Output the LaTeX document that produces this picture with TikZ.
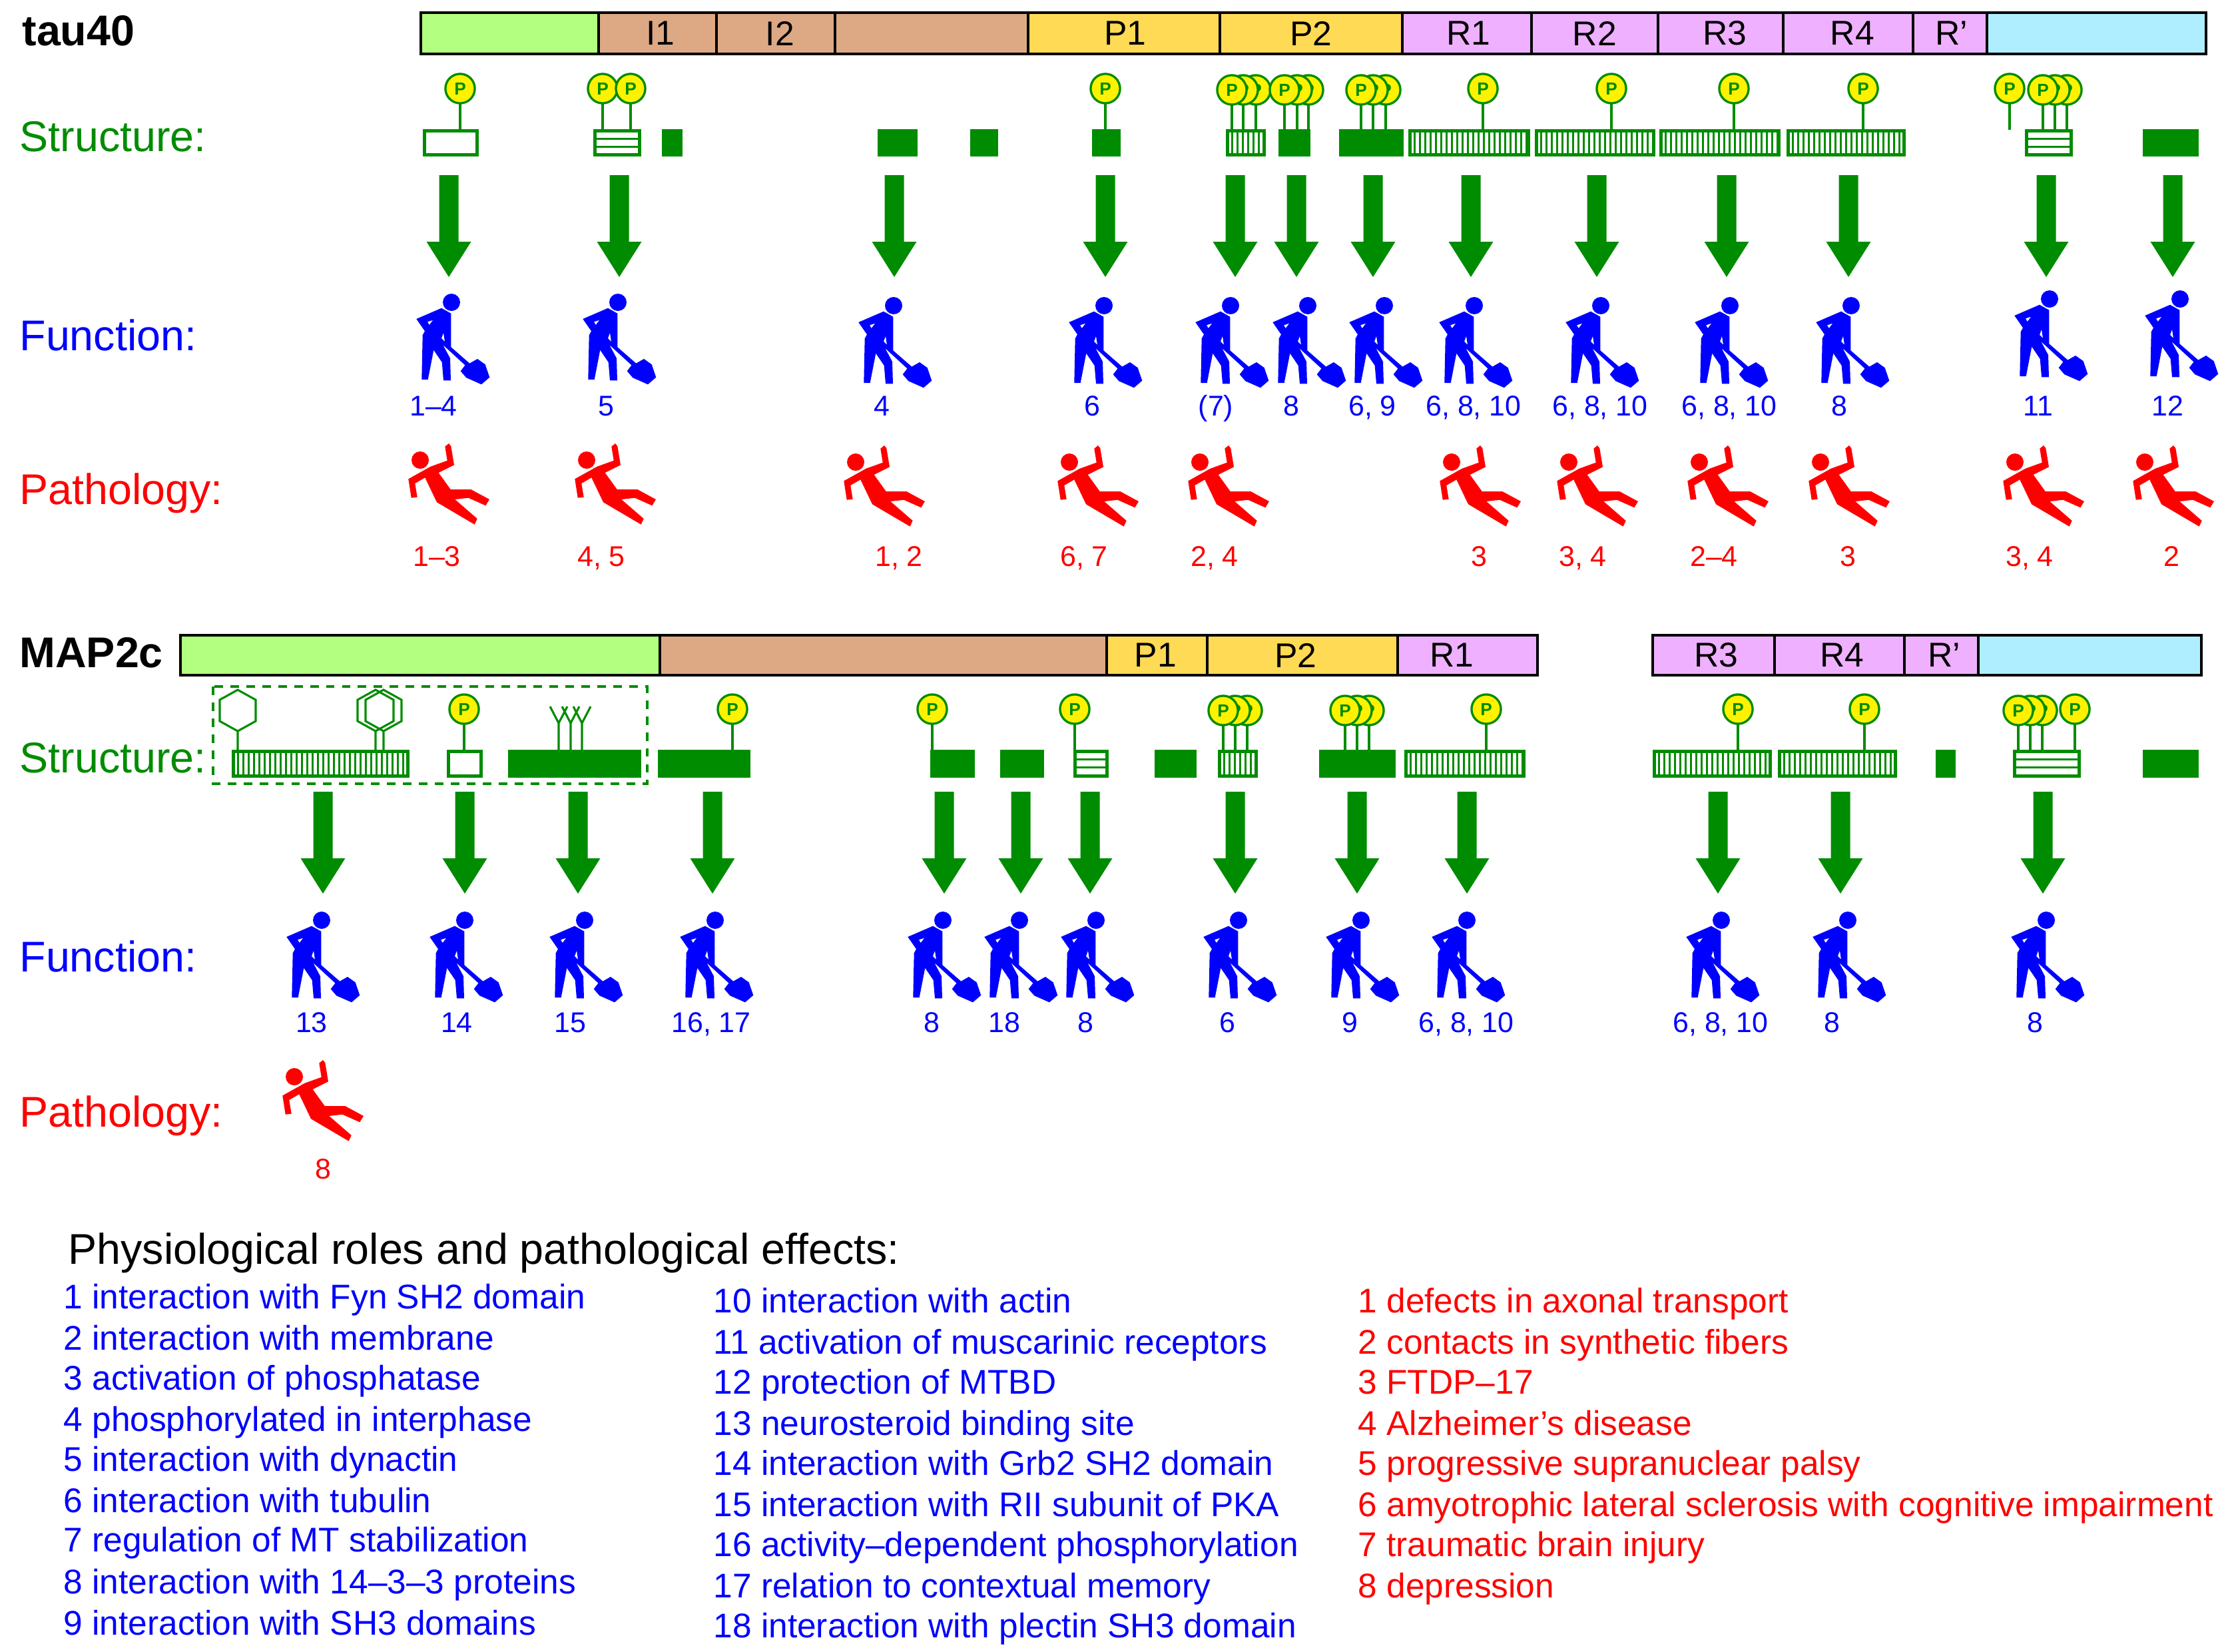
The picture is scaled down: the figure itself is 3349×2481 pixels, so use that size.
\documentclass[tikz,border=0pt]{standalone}
\usepackage{fontspec}
\setmainfont{Liberation Sans}
\definecolor{grn}{RGB}{0,140,0}
\definecolor{nterm}{RGB}{179,255,128}
\definecolor{proline}{RGB}{221,169,133}
\definecolor{prich}{RGB}{255,218,85}
\definecolor{rep}{RGB}{239,176,255}
\definecolor{cterm}{RGB}{174,238,255}
\tikzset{
  every picture/.style={line width=0.75pt},
  seg/.style={draw=black,line width=1.1pt},
  seglbl/.style={xshift=#1,font=\fontsize{12.4}{14}\selectfont},
  seglbl/.default=0.5pt,
  rowlbl/.style={anchor=west,inner sep=0pt,text height=0.72em,text depth=0pt,font=\fontsize{15.5}{18}\selectfont},
  namelbl/.style={rowlbl,font=\fontsize{15.5}{18}\selectfont\bfseries},
  itemlbl/.style={anchor=west,inner sep=0pt,text height=0.72em,text depth=0pt,font=\fontsize{12.35}{14}\selectfont},
  numlbl/.style={inner sep=0pt,text height=0.72em,text depth=0pt,font=\fontsize{10.3}{12}\selectfont},
  pball/.style={circle,draw=grn,fill=yellow,line width=0.8pt,minimum size=10.6pt,inner sep=0pt,text=grn,font=\fontsize{6.3}{7}\selectfont\bfseries},
  thin green/.style={draw=grn,line width=0.75pt},
  worker/.pic={
    \fill[blue,yscale=-1] (0,0) circle (13);
    \fill[blue,yscale=-1,even odd rule] (-15,8.7) -- (-0.7,16.7) -- (-0.7,67.3) -- (27.3,91.7) -- (39,85) -- (50.7,93.3) -- (57.3,112.7) -- (45,123.3) -- (22.3,113.3) -- (13.7,103.3) -- (20.5,94.5) -- (-12.7,64) -- (-2,84) -- (-1,117.3) -- (-12,117.3) -- (-14.3,90) -- (-26.7,71.7) -- (-35.3,116) -- (-44.7,116) -- (-43.3,49.3) -- (-40,43.3) -- (-52.7,25) -- cycle
      (-27.7,26.7) -- (-36,29.3) -- (-33.3,34) -- cycle
      (-12,45.7) -- (-15,54) -- (-10,59) -- cycle;
  },
  faller/.pic={
    \fill[red,yscale=-1] (0,0) circle (13);
    \fill[red,yscale=-1] (43,-25) -- (46.3,-21) -- (51,7.3) -- (27.7,19) -- (45.7,44) -- (76.3,44) -- (104,59) -- (98.3,68.3) -- (72.3,56.7) -- (52.3,59) -- (85.7,88) -- (81.7,96.7) -- (25,63.3) -- (7.3,26.3) -- (-7.7,35) -- (-4.3,55.7) -- (-13.3,56.7) -- (-17.7,28.3) -- (15.7,9.7) -- (40.7,0.7) -- (37.3,-20.3) -- cycle;
  },
  bigarrow/.pic={
    \fill[grn,yscale=-1] (-14.5,0) -- (14.5,0) -- (14.5,100) -- (33.5,100) -- (0,153) -- (-33.5,100) -- (-14.5,100) -- cycle;
  }
}
% phospho balloon: x, y of centre, y where the stem ends
\newcommand{\pbal}[3]{\draw[thin green] (#1,#2) -- (#1,#3); \node[pball] (p#1x#2) at (#1,#2) {P};}
% structure boxes: x1, y1, x2, y2
\newcommand{\solidel}[4]{\fill[grn] (#1,#2) rectangle (#3,#4);}
\newcommand{\openel}[4]{\draw[grn,line width=1.2pt] (#1+2.5,#2+2.5) rectangle (#3-2.5,#4-2.5);}
\newcommand{\helixel}[4]{\draw[grn,line width=0.72pt] (#1,#2+14) -- (#3,#2+14) (#1,#2+26) -- (#3,#2+26); \openel{#1}{#2}{#3}{#4}}
\newcommand{\sheetel}[4]{\draw[grn,line width=8pt,dash pattern=on 0.72pt off 1.2pt] (#1,#2/2+#4/2) -- (#3,#2/2+#4/2); \openel{#1}{#2}{#3}{#4}}

\begin{document}
\begin{tikzpicture}[x=0.24pt,y=0.24pt,yscale=-1,xscale=1]
	\useasboundingbox (0,0) rectangle (3349,2481);

	%Shape: tau40 bar
	\draw[seg,fill=nterm] (632,19) rectangle (899,81);
	\draw[seg,fill=proline] (899,19) rectangle (1076,81) node[midway,seglbl=1pt] (tI1) {I1};
	\draw[seg,fill=proline] (1076,19) rectangle (1254,81) node[midway,seglbl=1.5pt] (tI2) {I2};
	\draw[seg,fill=proline] (1254,19) rectangle (1544,81);
	\draw[seg,fill=prich] (1544,19) rectangle (1832,81) node[midway,seglbl] (tP1) {P1};
	\draw[seg,fill=prich] (1832,19) rectangle (2106,81) node[midway,seglbl=0pt] (tP2) {P2};
	\draw[seg,fill=rep] (2106,19) rectangle (2300,81) node[midway,seglbl] (tR1) {R1};
	\draw[seg,fill=rep] (2300,19) rectangle (2490,81) node[midway,seglbl=0pt] (tR2) {R2};
	\draw[seg,fill=rep] (2490,19) rectangle (2678,81) node[midway,seglbl=1.5pt] (tR3) {R3};
	\draw[seg,fill=rep] (2678,19) rectangle (2873,81) node[midway,seglbl=1.5pt] (tR4) {R4};
	\draw[seg,fill=rep] (2873,19) rectangle (2984,81) node[midway,seglbl] (tRp) {R’};
	\draw[seg,fill=cterm] (2984,19) rectangle (3313,81);

	%Shape: MAP2c bar
	\draw[seg,fill=nterm] (271,954) rectangle (991,1014);
	\draw[seg,fill=proline] (991,954) rectangle (1662,1014);
	\draw[seg,fill=prich] (1662,954) rectangle (1813,1014) node[midway,seglbl=-0.5pt] (mP1) {P1};
	\draw[seg,fill=prich] (1813,954) rectangle (2099,1014) node[midway,seglbl=-2.5pt] (mP2) {P2};
	\draw[seg,fill=rep] (2099,954) rectangle (2309,1014) node[midway,seglbl=-5.6pt] (mR1) {R1};
	\draw[seg,fill=rep] (2482,954) rectangle (2665,1014) node[midway,seglbl=1pt] (mR3) {R3};
	\draw[seg,fill=rep] (2665,954) rectangle (2860,1014) node[midway,seglbl=1pt] (mR4) {R4};
	\draw[seg,fill=rep] (2860,954) rectangle (2971,1014) node[midway,seglbl=1pt] (mRp) {R’};
	\draw[seg,fill=cterm] (2971,954) rectangle (3306,1014);

	% Text Node
	\node[namelbl] (tauname) at (32,53) {tau40};
	\node[namelbl] (mapname) at (28,987) {MAP2c};
	\node[rowlbl,text=grn] (tstruct) at (28,212) {Structure:};
	\node[rowlbl,text=blue] (tfunc) at (28,511) {Function:};
	\node[rowlbl,text=red] (tpath) at (28,742) {Pathology:};
	\node[rowlbl,text=grn] (mstruct) at (28,1145) {Structure:};
	\node[rowlbl,text=blue] (mfunc) at (28,1444) {Function:};
	\node[rowlbl,text=red] (mpath) at (28,1677) {Pathology:};

	%Shape: tau40 structure
	\openel{635}{194}{719}{235}
	\helixel{891}{194}{963}{235}
	\solidel{994}{194}{1025}{235}
	\solidel{1318}{194}{1378}{235}
	\solidel{1457}{194}{1499}{235}
	\solidel{1640}{194}{1683}{235}
	\sheetel{1841}{194}{1901}{235}
	\solidel{1920}{194}{1968}{235}
	\solidel{2011}{194}{2108}{235}
	\sheetel{2115}{194}{2298}{235}
	\sheetel{2305}{194}{2486}{235}
	\sheetel{2492}{194}{2674}{235}
	\sheetel{2683}{194}{2862}{235}
	\helixel{3041}{194}{3113}{235}
	\solidel{3218}{194}{3302}{235}

	%Shape: tau40 phospho sites
	\pbal{691}{133}{194}
	\pbal{905}{133}{194}
	\pbal{947}{133}{194}
	\pbal{1660}{133}{194}
	\pbal{1886}{135}{194}
	\pbal{1867}{135}{194}
	\pbal{1850}{135}{194}
	\pbal{1965}{135}{194}
	\pbal{1948}{135}{194}
	\pbal{1929}{135}{194}
	\pbal{2081}{135}{194}
	\pbal{2062}{135}{194}
	\pbal{2044}{135}{194}
	\pbal{2227}{133}{194}
	\pbal{2420}{133}{194}
	\pbal{2604}{133}{194}
	\pbal{2798}{133}{194}
	\pbal{3018}{133}{195}
	\pbal{3104}{135}{194}
	\pbal{3086}{135}{194}
	\pbal{3068}{135}{194}

	%Shape: MAP2c structure
	\draw[grn,line width=0.85pt,dash pattern=on 3.1pt off 2.65pt] (320,1031) rectangle (972,1177);
	\sheetel{348}{1126}{615}{1168}
	\openel{671}{1126}{725}{1168}
	\solidel{763}{1126}{963}{1168}
	\solidel{988}{1126}{1127}{1168}
	\solidel{1397}{1126}{1464}{1168}
	\solidel{1502}{1126}{1568}{1168}
	\helixel{1612}{1126}{1665}{1168}
	\solidel{1734}{1126}{1797}{1168}
	\sheetel{1829}{1126}{1889}{1168}
	\solidel{1981}{1126}{2096}{1168}
	\sheetel{2109}{1126}{2291}{1168}
	\sheetel{2482}{1126}{2661}{1168}
	\sheetel{2670}{1126}{2849}{1168}
	\solidel{2907}{1126}{2937}{1168}
	\helixel{3023}{1126}{3125}{1168}
	\solidel{3218}{1126}{3302}{1168}

	%Shape: neurosteroid hexagons
	\draw[thin green] (357,1126) -- (357,1098) -- (384,1083) -- (384,1051) -- (357,1036) -- (330,1051) -- (330,1083) -- (357,1098);
	\draw[thin green] (564,1126) -- (564,1098) -- (591,1083) -- (591,1051) -- (564,1036) -- (537,1051) -- (537,1083) -- (564,1098);
	\draw[thin green] (576,1126) -- (576,1098) -- (603,1083) -- (603,1051) -- (576,1036) -- (549,1051) -- (549,1083) -- (576,1098);
	%Shape: forks
	\draw[thin green] (839,1126) -- (839,1086) -- (826,1061) (839,1086) -- (852,1061);
	\draw[thin green] (857,1126) -- (857,1086) -- (844,1061) (857,1086) -- (870,1061);
	\draw[thin green] (874,1126) -- (874,1086) -- (861,1061) (874,1086) -- (887,1061);

	%Shape: MAP2c phospho sites
	\pbal{697}{1065}{1126}
	\pbal{1100}{1065}{1126}
	\pbal{1400}{1065}{1126}
	\pbal{1614}{1065}{1126}
	\pbal{1873}{1067}{1126}
	\pbal{1855}{1067}{1126}
	\pbal{1837}{1067}{1126}
	\pbal{2056}{1067}{1126}
	\pbal{2038}{1067}{1126}
	\pbal{2020}{1067}{1126}
	\pbal{2232}{1065}{1126}
	\pbal{2610}{1065}{1126}
	\pbal{2800}{1065}{1126}
	\pbal{3067}{1067}{1126}
	\pbal{3049}{1067}{1126}
	\pbal{3031}{1067}{1126}
	\pbal{3116}{1065}{1126}

	%Shape: tau40 arrows
	\pic (ta1) at (674,263) {bigarrow};
	\pic (ta2) at (930,263) {bigarrow};
	\pic (ta3) at (1343,263) {bigarrow};
	\pic (ta4) at (1660,263) {bigarrow};
	\pic (ta5) at (1855,263) {bigarrow};
	\pic (ta6) at (1947,263) {bigarrow};
	\pic (ta7) at (2062,263) {bigarrow};
	\pic (ta8) at (2209,263) {bigarrow};
	\pic (ta9) at (2398,263) {bigarrow};
	\pic (ta10) at (2593,263) {bigarrow};
	\pic (ta11) at (2776,263) {bigarrow};
	\pic (ta12) at (3073,263) {bigarrow};
	\pic (ta13) at (3263,263) {bigarrow};

	%Shape: MAP2c arrows
	\pic (ma1) at (485,1189) {bigarrow};
	\pic (ma2) at (698,1189) {bigarrow};
	\pic (ma3) at (868,1189) {bigarrow};
	\pic (ma4) at (1070,1189) {bigarrow};
	\pic (ma5) at (1418,1189) {bigarrow};
	\pic (ma6) at (1533,1189) {bigarrow};
	\pic (ma7) at (1637,1189) {bigarrow};
	\pic (ma8) at (1855,1189) {bigarrow};
	\pic (ma9) at (2038,1189) {bigarrow};
	\pic (ma10) at (2203,1189) {bigarrow};
	\pic (ma11) at (2580,1189) {bigarrow};
	\pic (ma12) at (2764,1189) {bigarrow};
	\pic (ma13) at (3068,1189) {bigarrow};

	%Shape: tau40 function
	\pic (tw1) at (678,454) {worker};
	\pic (tw2) at (928,454) {worker};
	\pic (tw3) at (1342,459) {worker};
	\pic (tw4) at (1658,459) {worker};
	\pic (tw5) at (1848,459) {worker};
	\pic (tw6) at (1964,459) {worker};
	\pic (tw7) at (2079,459) {worker};
	\pic (tw8) at (2214,459) {worker};
	\pic (tw9) at (2404,459) {worker};
	\pic (tw10) at (2598,459) {worker};
	\pic (tw11) at (2780,459) {worker};
	\pic (tw12) at (3078,449) {worker};
	\pic (tw13) at (3274,449) {worker};

	%Shape: tau40 pathology
	\pic (tf1) at (631,691) {faller};
	\pic (tf2) at (881,691) {faller};
	\pic (tf3) at (1285,694) {faller};
	\pic (tf4) at (1606,694) {faller};
	\pic (tf5) at (1802,694) {faller};
	\pic (tf6) at (2180,694) {faller};
	\pic (tf7) at (2356,694) {faller};
	\pic (tf8) at (2552,694) {faller};
	\pic (tf9) at (2734,694) {faller};
	\pic (tf10) at (3026,694) {faller};
	\pic (tf11) at (3221,694) {faller};

	%Shape: MAP2c function
	\pic (mw1) at (483,1382) {worker};
	\pic (mw2) at (698,1382) {worker};
	\pic (mw3) at (878,1382) {worker};
	\pic (mw4) at (1074,1382) {worker};
	\pic (mw5) at (1416,1382) {worker};
	\pic (mw6) at (1531,1382) {worker};
	\pic (mw7) at (1646,1382) {worker};
	\pic (mw8) at (1860,1382) {worker};
	\pic (mw9) at (2044,1382) {worker};
	\pic (mw10) at (2203,1382) {worker};
	\pic (mw11) at (2585,1382) {worker};
	\pic (mw12) at (2775,1382) {worker};
	\pic (mw13) at (3073,1382) {worker};

	%Shape: MAP2c pathology
	\pic (mf1) at (442,1617) {faller};

	% Text Node
	\node[numlbl,text=blue] (tn1) at (651,609) {1–4};
	\node[numlbl,text=blue] (tn2) at (910,609) {5};
	\node[numlbl,text=blue] (tn3) at (1324,609) {4};
	\node[numlbl,text=blue] (tn4) at (1640,609) {6};
	\node[numlbl,text=blue] (tn5) at (1826,609) {(7)};
	\node[numlbl,text=blue] (tn6) at (1939,609) {8};
	\node[numlbl,text=blue] (tn7) at (2061,609) {6, 9};
	\node[numlbl,text=blue] (tn8) at (2213,609) {6, 8, 10};
	\node[numlbl,text=blue] (tn9) at (2403,609) {6, 8, 10};
	\node[numlbl,text=blue] (tn10) at (2597,609) {6, 8, 10};
	\node[numlbl,text=blue] (tn11) at (2762,609) {8};
	\node[numlbl,text=blue] (tn12) at (3061,609) {11};
	\node[numlbl,text=blue] (tn13) at (3255,609) {12};
	% Text Node
	\node[numlbl,text=red] (tr1) at (656,835) {1–3};
	\node[numlbl,text=red] (tr2) at (903,835) {4, 5};
	\node[numlbl,text=red] (tr3) at (1350,835) {1, 2};
	\node[numlbl,text=red] (tr4) at (1628,835) {6, 7};
	\node[numlbl,text=red] (tr5) at (1824,835) {2, 4};
	\node[numlbl,text=red] (tr6) at (2221,835) {3};
	\node[numlbl,text=red] (tr7) at (2377,835) {3, 4};
	\node[numlbl,text=red] (tr8) at (2574,835) {2–4};
	\node[numlbl,text=red] (tr9) at (2775,835) {3};
	\node[numlbl,text=red] (tr10) at (3048,835) {3, 4};
	\node[numlbl,text=red] (tr11) at (3261,835) {2};
	% Text Node
	\node[numlbl,text=blue] (mn1) at (468,1535) {13};
	\node[numlbl,text=blue] (mn2) at (686,1535) {14};
	\node[numlbl,text=blue] (mn3) at (856,1535) {15};
	\node[numlbl,text=blue] (mn4) at (1068,1535) {16, 17};
	\node[numlbl,text=blue] (mn5) at (1399,1535) {8};
	\node[numlbl,text=blue] (mn6) at (1508,1535) {18};
	\node[numlbl,text=blue] (mn7) at (1630,1535) {8};
	\node[numlbl,text=blue] (mn8) at (1843,1535) {6};
	\node[numlbl,text=blue] (mn9) at (2027,1535) {9};
	\node[numlbl,text=blue] (mn10) at (2202,1535) {6, 8, 10};
	\node[numlbl,text=blue] (mn11) at (2584,1535) {6, 8, 10};
	\node[numlbl,text=blue] (mn12) at (2751,1535) {8};
	\node[numlbl,text=blue] (mn13) at (3056,1535) {8};
	\node[numlbl,text=red] (mr1) at (485,1755) {8};

	% Text Node
	\node[rowlbl] (legend) at (101,1883) {Physiological roles and pathological effects:};
	\node[itemlbl,text=blue] (role1) at (94,1950) {1 interaction with Fyn SH2 domain};
	\node[itemlbl,text=blue] (role2) at (94,2012) {2 interaction with membrane};
	\node[itemlbl,text=blue] (role3) at (94,2072) {3 activation of phosphatase};
	\node[itemlbl,text=blue] (role4) at (94,2134) {4 phosphorylated in interphase};
	\node[itemlbl,text=blue] (role5) at (94,2194) {5 interaction with dynactin};
	\node[itemlbl,text=blue] (role6) at (94,2256) {6 interaction with tubulin};
	\node[itemlbl,text=blue] (role7) at (94,2315) {7 regulation of MT stabilization};
	\node[itemlbl,text=blue] (role8) at (94,2378) {8 interaction with 14–3–3 proteins};
	\node[itemlbl,text=blue] (role9) at (94,2440) {9 interaction with SH3 domains};
	\node[itemlbl,text=blue] (role10) at (1070,1956) {10 interaction with actin};
	\node[itemlbl,text=blue] (role11) at (1070,2018) {11 activation of muscarinic receptors};
	\node[itemlbl,text=blue] (role12) at (1070,2078) {12 protection of MTBD};
	\node[itemlbl,text=blue] (role13) at (1070,2140) {13 neurosteroid binding site};
	\node[itemlbl,text=blue] (role14) at (1070,2200) {14 interaction with Grb2 SH2 domain};
	\node[itemlbl,text=blue] (role15) at (1070,2262) {15 interaction with RII subunit of PKA};
	\node[itemlbl,text=blue] (role16) at (1070,2322) {16 activity–dependent phosphorylation};
	\node[itemlbl,text=blue] (role17) at (1070,2384) {17 relation to contextual memory};
	\node[itemlbl,text=blue] (role18) at (1070,2444) {18 interaction with plectin SH3 domain};
	\node[itemlbl,text=red] (eff1) at (2038,1956) {1 defects in axonal transport};
	\node[itemlbl,text=red] (eff2) at (2038,2018) {2 contacts in synthetic fibers};
	\node[itemlbl,text=red] (eff3) at (2038,2078) {3 FTDP–17};
	\node[itemlbl,text=red] (eff4) at (2038,2140) {4 Alzheimer’s disease};
	\node[itemlbl,text=red] (eff5) at (2038,2200) {5 progressive supranuclear palsy};
	\node[itemlbl,text=red] (eff6) at (2038,2262) {6 amyotrophic lateral sclerosis with cognitive impairment};
	\node[itemlbl,text=red] (eff7) at (2038,2322) {7 traumatic brain injury};
	\node[itemlbl,text=red] (eff8) at (2038,2384) {8 depression};
\end{tikzpicture}
\end{document}
